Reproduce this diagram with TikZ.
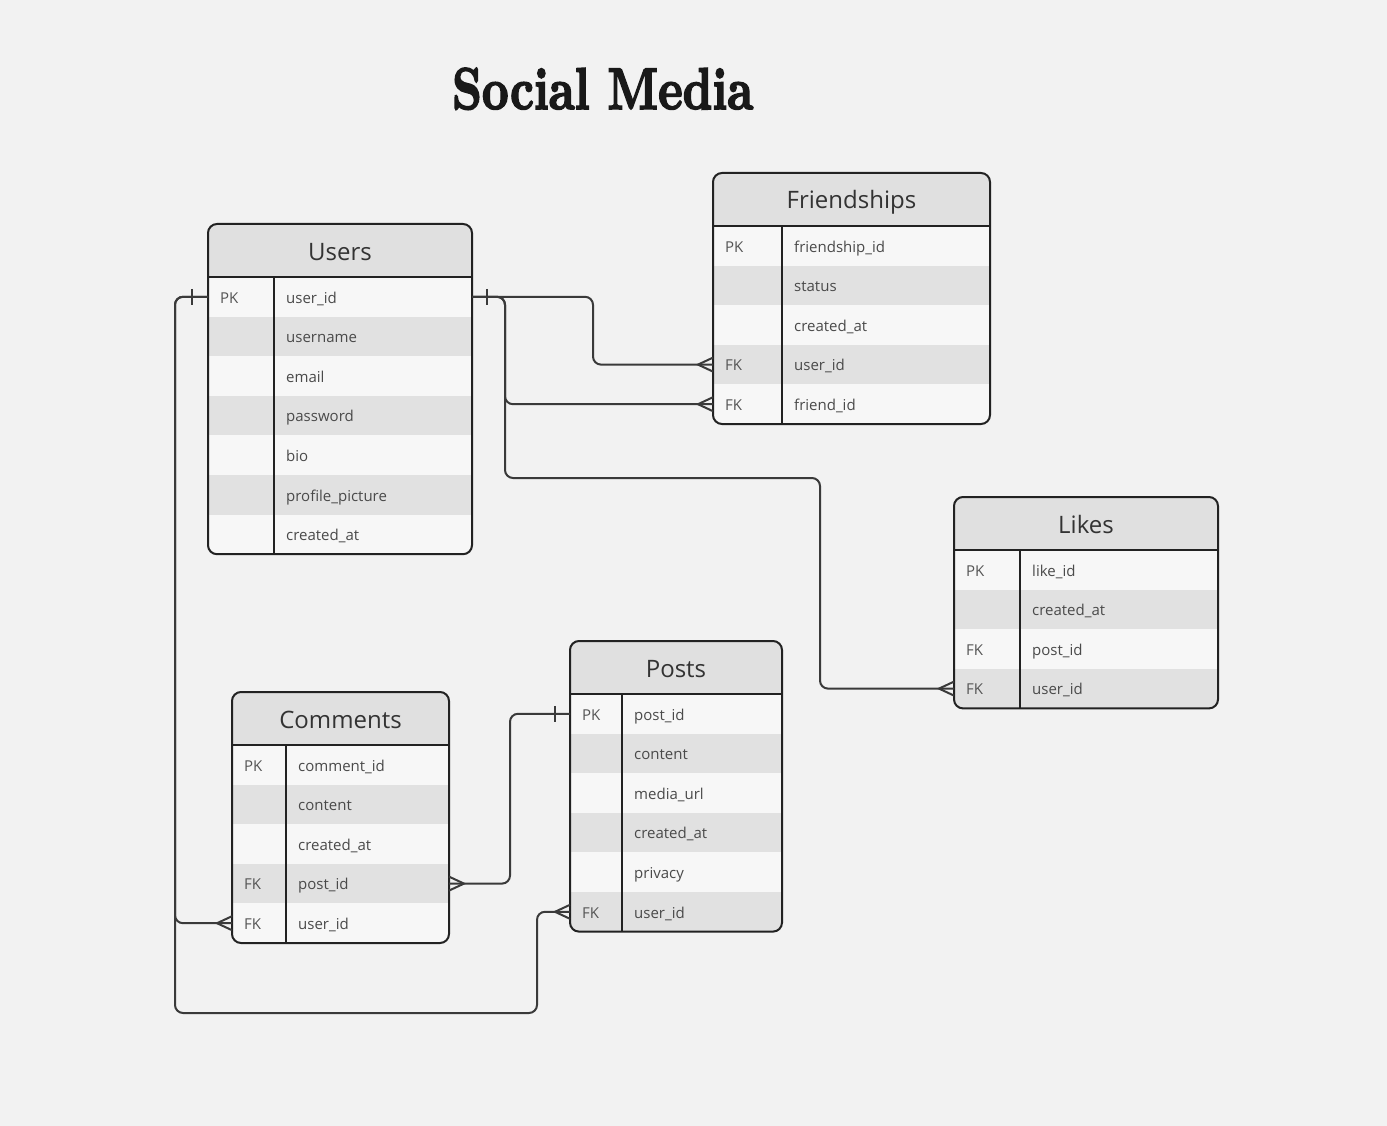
\documentclass[tikz,border=0pt]{standalone}
\usepackage{fontspec}
\newfontfamily\osans{Open Sans}
\newfontfamily\titlefont{lmroman10-bold}[Extension=.otf, FakeBold=3]
\definecolor{bg}{HTML}{F2F2F2}
\definecolor{rowA}{HTML}{F7F7F7}
\definecolor{rowB}{HTML}{E1E1E1}
\definecolor{hdrfill}{HTML}{E0E0E0}
\definecolor{edge}{HTML}{222222}
\definecolor{linec}{HTML}{3A3A3A}
\definecolor{hdrtc}{HTML}{333333}
\definecolor{fldtc}{HTML}{4A4A4A}
\definecolor{keytc}{HTML}{555555}
\tikzset{
  border/.style={draw=edge, line width=2pt},
  conn/.style={draw=linec, line width=2pt, rounded corners=8pt},
  hdrtxt/.style={text=hdrtc, inner sep=0pt, font=\osans\fontsize{24}{28}\selectfont},
  fldtxt/.style={text=fldtc, inner sep=0pt, font=\osans\fontsize{15}{18}\selectfont},
  keytxt/.style={text=keytc, inner sep=0pt, font=\osans\fontsize{15}{18}\selectfont},
  crowfoot/.pic={\draw[draw=linec, line width=2pt] (0,-7) -- (-15,0) -- (0,7);},
  onebar/.pic={\draw[draw=linec, line width=2pt] (0,-8) -- (0,8);}
}
\newcommand\erentity[8]{%
  \pgfmathsetmacro\eybot{#4+53+#7*39.6}
  \begin{scope}
    \clip[rounded corners=9pt] (#2,#4) rectangle (#3,\eybot);
    \fill[hdrfill] (#2,#4) rectangle (#3,#4+53);
    \foreach \k/\f [count=\i] in {#8}{
      \pgfmathsetmacro\ya{#4+53+(\i-1)*39.6}
      \ifodd\i \def\rc{rowA}\else\def\rc{rowB}\fi
      \fill[fill=\rc] (#2,\ya) rectangle (#3,\ya+39.6);
    }
  \end{scope}
  \foreach \k/\f [count=\i] in {#8}{
    \pgfmathsetmacro\ym{#4+53+(\i-0.5)*39.6}
    \coordinate (#1-\i-w) at (#2,\ym);
    \coordinate (#1-\i-e) at (#3,\ym);
    \node[keytxt, anchor=base west] (#1-\i-k) at (#2+12,\ym+6.3) {\strut\k};
    \node[fldtxt, anchor=base west] (#1-\i-f) at (#5+12,\ym+6.3) {\f};
  }
  \node[hdrtxt, anchor=base] (#1-title) at ({(#2+#3)/2},#4+36) {#6};
  \draw[border] (#2,#4+53) -- (#3,#4+53);
  \draw[border] (#5,#4+53) -- (#5,\eybot);
  \draw[border, rounded corners=9pt] (#2,#4) rectangle (#3,\eybot);
}
\begin{document}
\begin{tikzpicture}[x=1pt,y=-1pt]
\fill[bg] (0,0) rectangle (1387,1126);
\useasboundingbox (0,0) rectangle (1387,1126);

\node[anchor=base west, inner sep=0pt, text=black!90] (title) at (452,109)
  {\resizebox{301pt}{41pt}{\titlefont Social Media}};

\erentity{U}{208}{472}{224}{274}{Users}{7}{PK/user\_id, /username, /email, /password, /bio, /profile\_picture, /created\_at}
\erentity{F}{713}{990}{173}{782}{Friendships}{5}{PK/friendship\_id, /status, /created\_at, FK/user\_id, FK/friend\_id}
\erentity{L}{954}{1218}{497}{1020}{Likes}{4}{PK/like\_id, /created\_at, FK/post\_id, FK/user\_id}
\erentity{P}{570}{782}{641}{622}{Posts}{6}{PK/post\_id, /content, /media\_url, /created\_at, /privacy, FK/user\_id}
\erentity{C}{232}{449}{692}{286}{Comments}{5}{PK/comment\_id, /content, /created\_at, FK/post\_id, FK/user\_id}

\coordinate (j1) at (505,478);
\coordinate (j2) at (820,478);
\coordinate (j3) at (175,1013);
\coordinate (j4) at (537,1013);

% Users -> Friendships
\draw[conn] (U-1-e) -- ++(121,0) |- (F-4-w);
\draw[conn] (U-1-e) -- ++(33,0) |- (F-5-w);
% Users -> Likes
\draw[conn] (U-1-e) -| (j1) -- (j2) |- (L-4-w);
% Users -> Comments
\draw[conn] (U-1-w) -- ++(-33,0) |- (C-5-w);
% Users -> Posts
\draw[conn] (U-1-w) -| (j3) -- (j4) |- (P-6-w);
% Posts -> Comments
\draw[conn] (P-1-w) -- ++(-60,0) |- (C-4-e);

% one-bars
\pic at ([xshift=15pt]U-1-e) {onebar};
\pic at ([xshift=-16pt]U-1-w) {onebar};
\pic at ([xshift=-15pt]P-1-w) {onebar};

% crow's feet
\pic at (F-4-w) {crowfoot};
\pic at (F-5-w) {crowfoot};
\pic at (L-4-w) {crowfoot};
\pic at (C-5-w) {crowfoot};
\pic at (P-6-w) {crowfoot};
\pic[xscale=-1] at (C-4-e) {crowfoot};
\end{tikzpicture}
\end{document}
